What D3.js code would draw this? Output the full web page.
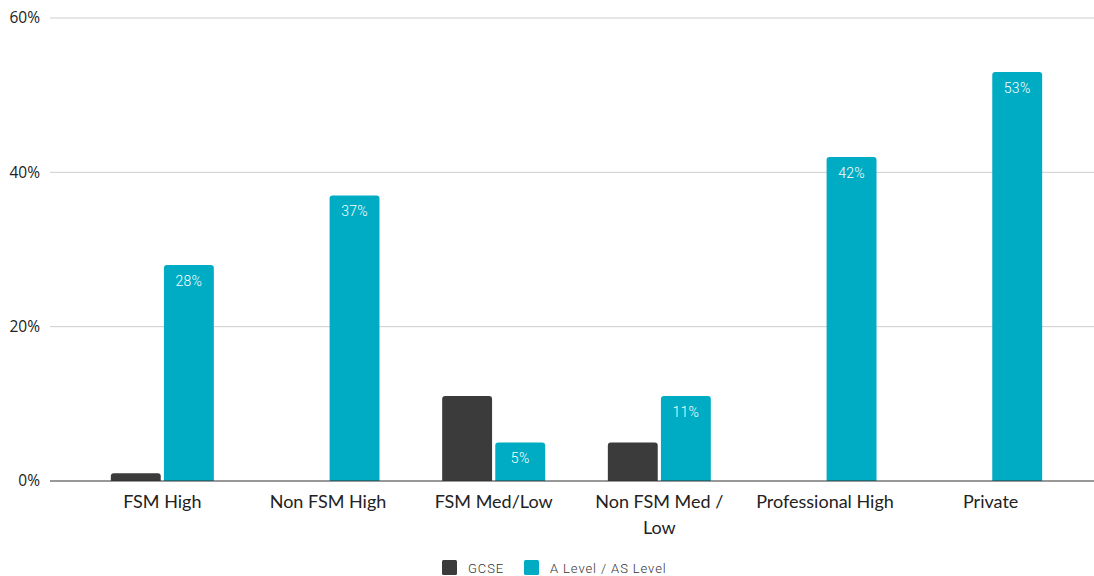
<!DOCTYPE html>
<html>
<head>
<meta charset="utf-8">
<script src="https://cdn.jsdelivr.net/npm/d3@7"></script>
<style>
  html, body { margin: 0; padding: 0; background: #fff; }
  svg { display: block; }
</style>
</head>
<body>
<svg id="chart" width="1094" height="576"></svg>
<script>
// Share of students by school group and qualification
const categories = ["FSM High", "Non FSM High", "FSM Med/Low", "Non FSM Med / Low", "Professional High", "Private"];
const categoryLines = [["FSM High"], ["Non FSM High"], ["FSM Med/Low"], ["Non FSM Med /", "Low"], ["Professional High"], ["Private"]];
const seriesNames = ["GCSE", "A Level / AS Level"];
const gcse = [1, 0, 11, 5, 0, 0];
const aLevel = [28, 37, 5, 11, 42, 53];
const yTicks = [0, 20, 40, 60];
const colors = ["#3b3b3b", "#00acc4"];

const svg = d3.select("#chart");
const W = 1094, H = 576;
const plot = { left: 79.5, right: 1073.5, top: 18, bottom: 481 };

const x = d3.scaleBand().domain(categories).range([plot.left, plot.right]).paddingInner(0).paddingOuter(0);
const x1 = d3.scaleBand().domain(seriesNames).range([0, 103]).paddingInner(0.06);
const y = d3.scaleLinear().domain([0, 60]).range([plot.bottom, plot.top]);

// gridlines
svg.append("g").selectAll("line").data(yTicks.filter(d => d > 0)).join("line")
  .attr("x1", 50).attr("x2", W)
  .attr("y1", d => y(d)).attr("y2", d => y(d))
  .attr("stroke", "#cccccc").attr("stroke-width", 1);

// y axis labels
svg.append("g").selectAll("text").data(yTicks).join("text")
  .attr("x", 40).attr("y", d => y(d)).attr("dy", "0.35em")
  .attr("text-anchor", "end")
  .attr("font-family", "'Open Sans', Lato, sans-serif").attr("font-size", 15.5).attr("fill", "#222")
  .text(d => d + "%");

// rounded-top bar path
function topRounded(x0, y0, w, h, r) {
  if (h <= 0) return "";
  r = Math.min(r, h, w / 2);
  return `M${x0},${y0 + h}V${y0 + r}Q${x0},${y0} ${x0 + r},${y0}H${x0 + w - r}Q${x0 + w},${y0} ${x0 + w},${y0 + r}V${y0 + h}Z`;
}

const rows = categories.map((c, i) => ({ cat: c, vals: [gcse[i], aLevel[i]] }));
const groups = svg.append("g").selectAll("g").data(rows).join("g")
  .attr("transform", d => `translate(${x(d.cat) + x.bandwidth() / 2 - 51.5},0)`);

groups.selectAll("path").data(d => d.vals.map((v, j) => ({ v, s: seriesNames[j], j }))).join("path")
  .attr("d", d => topRounded(x1(d.s), y(d.v), x1.bandwidth(), y(0) - y(d.v), 3))
  .attr("fill", d => colors[d.j]);

// value labels inside A Level bars
groups.append("text")
  .attr("x", x1(seriesNames[1]) + x1.bandwidth() / 2)
  .attr("y", d => y(d.vals[1]) + 21)
  .attr("text-anchor", "middle")
  .attr("font-family", "Roboto, sans-serif").attr("font-size", 14).attr("font-weight", 300)
  .attr("letter-spacing", "0.3px").attr("fill", "#fff")
  .text(d => d.vals[1] + "%");

// baseline
svg.append("line").attr("x1", 50).attr("x2", W).attr("y1", y(0)).attr("y2", y(0))
  .attr("stroke", "#333").attr("stroke-width", 1);

// category labels
const xl = svg.append("g").selectAll("text").data(categories).join("text")
  .attr("x", d => x(d) + x.bandwidth() / 2).attr("y", 508)
  .attr("text-anchor", "middle")
  .attr("font-family", "Lato, 'Open Sans', sans-serif").attr("font-size", 18).attr("fill", "#222");
xl.each(function (d, i) {
  const t = d3.select(this);
  categoryLines[i].forEach((line, k) => {
    t.append("tspan").attr("x", x(d) + x.bandwidth() / 2).attr("dy", k === 0 ? 0 : 26).text(line);
  });
});

// legend
const legendItems = [{ name: seriesNames[0], x: 442 }, { name: seriesNames[1], x: 524 }];
const lg = svg.append("g").selectAll("g").data(legendItems).join("g")
  .attr("transform", d => `translate(${d.x},560)`);
lg.append("rect").attr("width", 15).attr("height", 15).attr("rx", 1.5)
  .attr("fill", (d, i) => colors[i]);
lg.append("text").attr("x", 26).attr("y", 12.5)
  .attr("font-family", "Roboto, sans-serif").attr("font-size", 13).attr("font-weight", 300)
  .attr("letter-spacing", "0.9px")
  .attr("fill", "#333").text(d => d.name);
</script>
</body>
</html>
